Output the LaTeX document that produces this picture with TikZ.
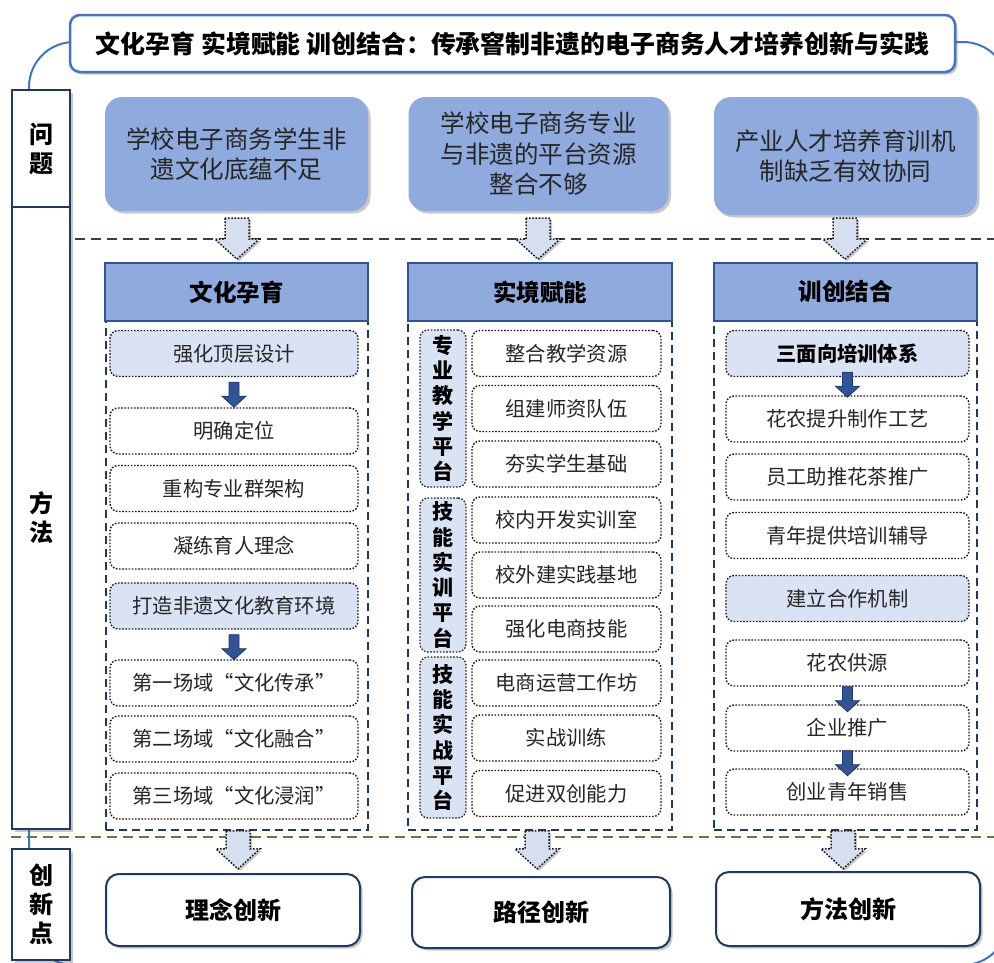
\documentclass[tikz,border=0pt]{standalone}
\usepackage{fontspec}
\setmainfont{Noto Sans CJK SC}
\usetikzlibrary{shadows,calc}
\definecolor{framec}{HTML}{4472C4}
\definecolor{probc}{HTML}{8FAADC}
\definecolor{navy}{HTML}{1F3864}
\definecolor{headb}{HTML}{2F5597}
\definecolor{lightc}{HTML}{DAE3F3}
\definecolor{arrowc}{HTML}{D6DFF0}
\definecolor{greenc}{HTML}{548235}
\definecolor{sepc}{HTML}{333F50}
\definecolor{txt}{HTML}{262626}
\tikzset{
  shad/.style={drop shadow={shadow xshift=2.5pt,shadow yshift=-2.5pt,opacity=0.3,fill=black!70}},
  dots/.style={dash pattern=on 1.6pt off 1.6pt},
  titlebox/.style={draw=framec,line width=2.5pt,fill=white,rounded corners=10pt,shad,
    minimum width=885pt,minimum height=57pt,inner sep=0pt,font=\bfseries\fontsize{24.9}{30}\selectfont},
  lab/.style={draw=navy,line width=2.8pt,fill=white,shad,minimum width=58pt,inner sep=0pt,
    align=center,font=\bfseries\fontsize{24}{29}\selectfont},
  prob/.style={fill=probc,rounded corners=17pt,shad,inner sep=0pt,align=center,text=txt,
    font=\fontsize{24.5}{30.5}\selectfont},
  colframe/.style={draw=navy,line width=1.8pt,dash pattern=on 8pt off 5pt,inner sep=0pt},
  head/.style={fill=probc,draw=headb,line width=2pt,minimum height=58pt,inner sep=0pt,
    font=\bfseries\fontsize{23.5}{28}\selectfont},
  item/.style={draw=black!90,dots,line width=1.4pt,rounded corners=8pt,fill=white,
    minimum height=46pt,inner sep=0pt,text=txt,font=\fontsize{20.3}{24}\selectfont},
  hitem/.style={item,fill=lightc},
  vlab/.style={draw=black!85,dots,line width=1.3pt,rounded corners=8pt,fill=lightc,
    minimum width=46pt,inner sep=0pt,align=center,font=\bfseries\fontsize{21}{25.3}\selectfont},
  bot/.style={draw=navy,line width=2pt,fill=white,rounded corners=13pt,shad,inner sep=0pt,
    font=\bfseries\fontsize{24}{28}\selectfont},
  pics/hollowarr/.style={code={
    \filldraw[fill=arrowc,draw=black!90,dots,line width=1.5pt,
      drop shadow={shadow xshift=2pt,shadow yshift=-2pt,opacity=0.3,fill=black!70}]
      (-12,0) -- (-12,#1) -- (-22,#1) -- (0,#1+20) -- (22,#1) -- (12,#1) -- (12,0) -- cycle;}},
  pics/solidarr/.style={code={
    \filldraw[fill=headb,draw=navy,line width=0.8pt]
      (-5,0) -- (-5,14) -- (-12,14) -- (0,25) -- (12,14) -- (5,14) -- (5,0) -- cycle;}},
}
\begin{document}
\begin{tikzpicture}[x=1pt,y=-1pt]
\useasboundingbox (0,0) rectangle (994,962);
\fill[white] (0,0) rectangle (994,962);
% outer frame
\draw[framec,line width=2pt,rounded corners=45pt] (29,42) rectangle (1008,965);
% separators
\draw[sepc,line width=1.8pt,dash pattern=on 10pt off 6pt] (75,239) -- (994,239);
\draw[greenc,line width=2pt,dash pattern=on 10pt off 6pt] (11,837) -- (994,837);
% title
\node[titlebox] (t) at (512.5,43.5) {文化孕育 实境赋能 训创结合：传承窨制非遗的电子商务人才培养创新与实践};
% left labels
\node[lab,minimum height=117pt] (l1) at (41,148.5) {问\\题};
\node[lab,minimum height=622pt] (l2) at (41,518) {方\\法};
\node[lab,minimum height=111pt] (l3) at (41,904.5) {创\\新\\点};
% problems
\node[prob,minimum width=263pt,minimum height=114pt] (p1) at (236.5,154) {学校电子商务学生非\\遗文化底蕴不足};
\node[prob,minimum width=260pt,minimum height=114pt] (p2) at (538.5,154) {学校电子商务专业\\与非遗的平台资源\\整合不够};
\node[prob,minimum width=263pt,minimum height=118pt] (p3) at (845.5,156) {产业人才培养育训机\\制缺乏有效协同};
% column frames
\node[colframe,minimum width=262pt,minimum height=509pt] (f1) at (237,575.5) {};
\node[colframe,minimum width=264pt,minimum height=509pt] (f2) at (540,575.5) {};
\node[colframe,minimum width=263pt,minimum height=509pt] (f3) at (845.5,575.5) {};
% headers
\node[head,minimum width=263pt] (h1) at (236.5,292) {文化孕育};
\node[head,minimum width=264pt] (h2) at (540,292) {实境赋能};
\node[head,minimum width=263pt] (h3) at (845.5,292) {训创结合};
% column 1
\begin{scope}[every node/.append style={minimum width=248pt}]
\node[hitem] (a1) at (234,353.5) {强化顶层设计};
\node[item]  (a2) at (234,431) {明确定位};
\node[item]  (a3) at (234,488.5) {重构专业群架构};
\node[item]  (a4) at (234,546) {凝练育人理念};
\node[hitem] (a5) at (234,606) {打造非遗文化教育环境};
\node[item]  (a6) at (234,683) {第一场域“文化传承”};
\node[item]  (a7) at (234,739) {第二场域“文化融合”};
\node[item]  (a8) at (234,796) {第三场域“文化浸润”};
\end{scope}
\pic at ($(a1.south)+(0,5)$) {solidarr};
\pic at ($(a5.south)+(0,5)$) {solidarr};
% column 2
\node[vlab,minimum height=157pt] (v1) at (443,408.5) {专\\业\\教\\学\\平\\台};
\node[vlab,minimum height=154pt] (v2) at (443,575) {技\\能\\实\\训\\平\\台};
\node[vlab,minimum height=161pt] (v3) at (443,737.5) {技\\能\\实\\战\\平\\台};
\begin{scope}[every node/.append style={minimum width=189pt}]
\node[item] (c1) at (566.5,353.5) {整合教学资源};
\node[item] (c2) at (566.5,408.5) {组建师资队伍};
\node[item] (c3) at (566.5,464) {夯实学生基础};
\node[item] (c4) at (566.5,520) {校内开发实训室};
\node[item] (c5) at (566.5,575) {校外建实践基地};
\node[item] (c6) at (566.5,629) {强化电商技能};
\node[item] (c7) at (566.5,683) {电商运营工作坊};
\node[item] (c8) at (566.5,738) {实战训练};
\node[item] (c9) at (566.5,793.5) {促进双创能力};
\end{scope}
% column 3
\begin{scope}[every node/.append style={minimum width=243pt}]
\node[hitem,font=\bfseries\fontsize{20.3}{24}\selectfont,text=black] (d1) at (847.5,353.5) {三面向培训体系};
\node[item]  (d2) at (847.5,419) {花农提升制作工艺};
\node[item]  (d3) at (847.5,477) {员工助推花茶推广};
\node[item]  (d4) at (847.5,535.5) {青年提供培训辅导};
\node[hitem] (d5) at (847.5,598.5) {建立合作机制};
\node[item]  (d6) at (847.5,663) {花农供源};
\node[item]  (d7) at (847.5,728) {企业推广};
\node[item]  (d8) at (847.5,792) {创业青年销售};
\end{scope}
\pic at ($(d1.south)+(0,-5)$) {solidarr};
\pic at ($(d6.south)+(0,0)$) {solidarr};
\pic at ($(d7.south)+(0,-1)$) {solidarr};
% arrows problem -> header
\pic at ($(p1.south)+(0.5,7)$) {hollowarr=21};
\pic at ($(p2.south)+(-0.5,7)$) {hollowarr=21};
\pic at ($(p3.south)+(-0.5,3)$) {hollowarr=21};
% bottom boxes
\node[bot,minimum width=254pt,minimum height=72pt] (b1) at (233,910) {理念创新};
\node[bot,minimum width=258pt,minimum height=71pt] (b2) at (541,912.5) {路径创新};
\node[bot,minimum width=264pt,minimum height=74pt] (b3) at (848,909) {方法创新};
% arrows frame -> bottom
\pic at ($(f1.south)+(1,0)$) {hollowarr=18};
\pic at ($(f2.south)+(-3,0)$) {hollowarr=18};
\pic at ($(f3.south)+(-2.5,0)$) {hollowarr=18};
\end{tikzpicture}
\end{document}
